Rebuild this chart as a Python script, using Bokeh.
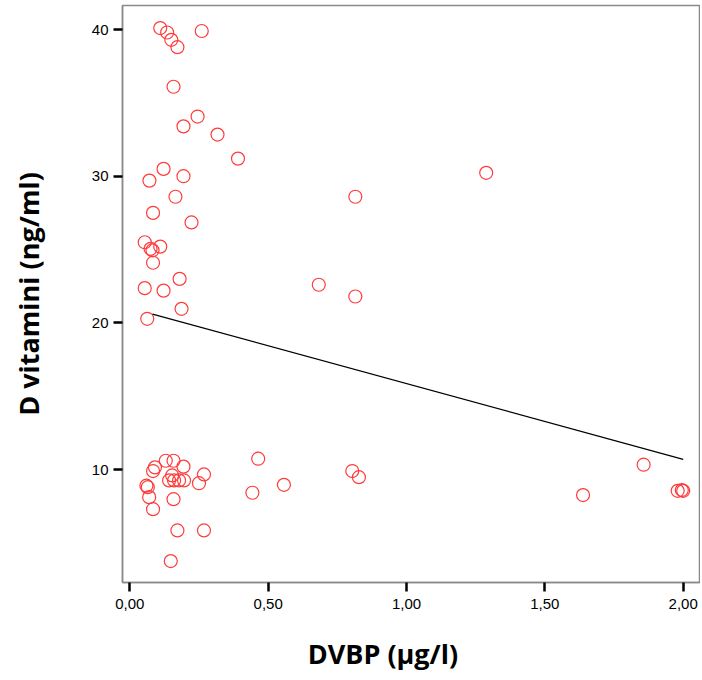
from bokeh.plotting import figure
from bokeh.models import ColumnDataSource, FixedTicker, Range1d
from bokeh.embed import file_html
from bokeh.resources import INLINE

# DVBP (µg/l) values
dvbp = [0.11, 0.135, 0.15, 0.172, 0.26,
        0.158, 0.245, 0.194, 0.317, 0.391,
        0.122, 0.071, 0.194, 0.165, 0.084, 0.223,
        0.054, 0.075, 0.082, 0.11, 0.084, 0.18,
        0.054, 0.122, 0.187, 0.063,
        1.288, 0.815, 0.683, 0.815,
        0.13, 0.158, 0.194, 0.091, 0.084, 0.268,
        0.142, 0.153, 0.16, 0.178, 0.196, 0.25,
        0.06, 0.065, 0.07, 0.158, 0.084, 0.172, 0.268, 0.148,
        0.464, 0.443, 0.557, 0.804, 0.828, 1.857, 1.638, 1.98, 1.995, 2.0]
# D vitamini (ng/ml) values
dvit = [40.1, 39.8, 39.3, 38.8, 39.9,
        36.1, 34.07, 33.4, 32.84, 31.2,
        30.5, 29.7, 30.0, 28.6, 27.5, 26.85,
        25.5, 25.05, 24.95, 25.2, 24.1, 23.0,
        22.37, 22.2, 20.96, 20.28,
        30.23, 28.6, 22.6, 21.8,
        10.6, 10.6, 10.2, 10.15, 9.9, 9.67,
        9.26, 9.6, 9.26, 9.26, 9.26, 9.07,
        8.9, 8.8, 8.12, 7.98, 7.3, 5.85, 5.85, 3.76,
        10.74, 8.42, 8.96, 9.9, 9.48, 10.33, 8.26, 8.55, 8.6, 8.55]

# linear fit
fit_intercept = 21.02
fit_slope = -5.16
fit_x = [0.082, 2.0]
fit_y = [fit_intercept + fit_slope * v for v in fit_x]

x_ticks = [0.0, 0.5, 1.0, 1.5, 2.0]
x_tick_labels = ["0,00", "0,50", "1,00", "1,50", "2,00"]
y_ticks = [10, 20, 30, 40]
x_title = "DVBP (µg/l)"
y_title = "D vitamini (ng/ml)"

p = figure(width=700, height=678, output_backend="svg", toolbar_location=None,
           x_range=Range1d(-0.0264, 2.0589), y_range=Range1d(2.30, 41.64),
           min_border_left=122, min_border_right=1, min_border_top=5,
           min_border_bottom=96)
p.background_fill_color = "white"
p.border_fill_color = "white"
p.outline_line_color = "#8a8a8a"
p.outline_line_width = 1.5
p.grid.visible = False

src = ColumnDataSource(dict(x=dvbp, y=dvit))
p.scatter("x", "y", source=src, marker="circle", size=13,
          line_color="#ff3b3b", fill_color=None, line_width=1.2)
p.line(fit_x, fit_y, line_color="black", line_width=1.3)

for ax in (p.xaxis[0], p.yaxis[0]):
    ax.axis_line_color = "#8a8a8a"
    ax.axis_line_width = 1.5
    ax.major_tick_line_color = "black"
    ax.major_tick_line_width = 2.5
    ax.major_tick_out = 9
    ax.major_tick_in = 0
    ax.minor_tick_line_color = None
    ax.major_label_text_font = "Liberation Sans"
    ax.major_label_text_font_size = "15px"
    ax.major_label_text_color = "black"
    ax.axis_label_text_font = "Open Sans"
    ax.axis_label_text_font_style = "bold"
    ax.axis_label_text_font_size = "27px"
    ax.axis_label_text_color = "black"

p.xaxis[0].ticker = FixedTicker(ticks=x_ticks)
p.xaxis[0].major_label_overrides = {t: l for t, l in zip(x_ticks, x_tick_labels)}
p.xaxis[0].major_label_standoff = 7
# trailing no-break spaces shift the centred title left, as in the original
p.xaxis[0].axis_label = x_title + "\u00a0" * 8
p.xaxis[0].axis_label_standoff = 23

p.yaxis[0].ticker = FixedTicker(ticks=y_ticks)
p.yaxis[0].major_label_standoff = 5
p.yaxis[0].axis_label = y_title
p.yaxis[0].axis_label_standoff = 42

open("out.html", "w").write(file_html(p, INLINE))
